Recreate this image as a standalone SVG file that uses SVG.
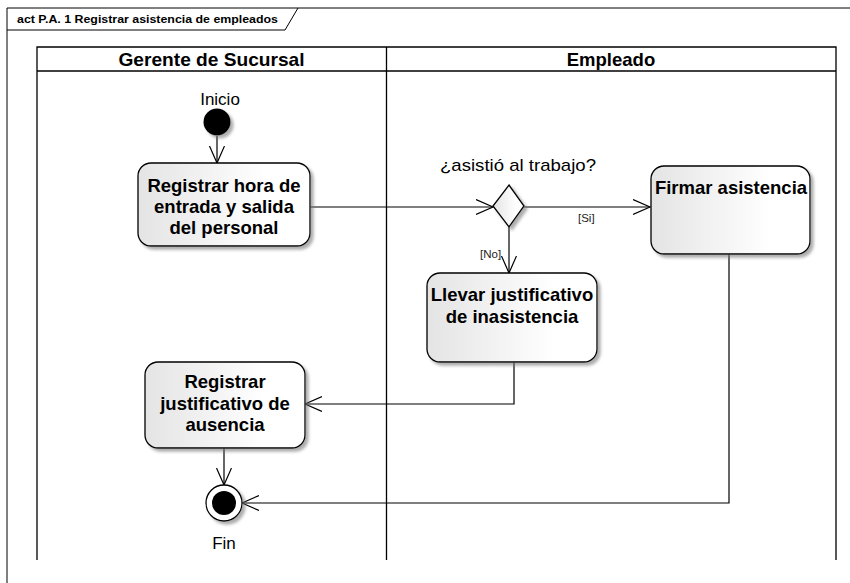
<svg xmlns="http://www.w3.org/2000/svg" width="850" height="583" viewBox="0 0 850 583">
<defs>
<style>
.frame{fill:none;stroke:#000;stroke-width:1}
.lane{fill:none;stroke:#000;stroke-width:1.3}
.title{font-family:"Liberation Sans",Arial,sans-serif;font-weight:bold;font-size:11.5px;fill:#000}
.hdr{font-family:"Liberation Sans",Arial,sans-serif;font-weight:bold;font-size:18.5px;fill:#000;text-anchor:middle}
.act{fill:url(#g);stroke:#000;stroke-width:1.3;filter:url(#sh)}
.lbl{font-family:"Liberation Sans",Arial,sans-serif;font-weight:bold;font-size:18.5px;fill:#000;text-anchor:middle}
.txt{font-family:"Liberation Sans",Arial,sans-serif;font-size:17px;fill:#000;text-anchor:middle}
.grd{font-family:"Liberation Sans",Arial,sans-serif;font-size:11.5px;fill:#222}
.con{fill:none;stroke:#000;stroke-width:1.2;marker-end:url(#arr)}
</style>
<linearGradient id="g" x1="0" y1="0" x2="1" y2="0">
<stop offset="0" stop-color="#e4e4e4"/>
<stop offset="0.75" stop-color="#ffffff"/>
<stop offset="1" stop-color="#ffffff"/>
</linearGradient>
<filter id="sh" x="-10%" y="-10%" width="130%" height="130%">
<feDropShadow dx="3" dy="3" stdDeviation="1.5" flood-color="#777" flood-opacity="0.6"/>
</filter>
<marker id="arr" markerUnits="userSpaceOnUse" markerWidth="20" markerHeight="18" refX="17" refY="8" orient="auto">
<path d="M0,0.5 L17,8 L0,15.5" fill="none" stroke="#000" stroke-width="1.2"/>
</marker>
</defs>
<rect width="850" height="583" fill="#fff"/>
<g id="frame">
<path class="frame" d="M7,583 L7,8 L850,8"/>
<path class="frame" d="M7,30 L285,30 L298,8"/>
<text class="title" x="17" y="23" textLength="261" lengthAdjust="spacingAndGlyphs">act P.A. 1 Registrar asistencia de empleados</text>
</g>
<g id="lanes">
<path class="lane" d="M37,560 L37,47 L836,47 L836,560"/>
<line class="lane" x1="37" y1="71" x2="836" y2="71"/>
<line class="lane" x1="386.5" y1="47" x2="386.5" y2="560"/>
<text class="hdr" x="211.5" y="66" textLength="186" lengthAdjust="spacingAndGlyphs">Gerente de Sucursal</text>
<text class="hdr" x="611" y="66">Empleado</text>
</g>
<g id="connectors">
<path class="con" d="M217,136 L217,163"/>
<path class="con" d="M310,207 L493,207"/>
<path class="con" d="M524,207 L650,207"/>
<path class="con" d="M509,227 L509,273"/>
<path class="con" d="M514,362 L514,404 L305,404"/>
<path class="con" d="M224,448 L224,485"/>
<path class="con" d="M729,254 L729,503 L242,503"/>
<text class="grd" x="578" y="222">[Si]</text>
<text class="grd" x="480" y="258">[No]</text>
</g>
<g id="inicio">
<circle cx="217" cy="122" r="13.5" fill="#000" filter="url(#sh)"/>
<text class="txt" x="220" y="105">Inicio</text>
</g>
<g id="registrar-hora">
<rect class="act" x="138" y="163" width="172" height="83" rx="13" ry="13"/>
<text class="lbl" x="224" y="192">Registrar hora de</text>
<text class="lbl" x="224" y="213">entrada y salida</text>
<text class="lbl" x="224" y="234">del personal</text>
</g>
<g id="decision">
<polygon class="act" points="509,185 524,206 509,227 493,206"/>
<text class="txt" x="518" y="171" textLength="156" lengthAdjust="spacingAndGlyphs">¿asistió al trabajo?</text>
</g>
<g id="firmar">
<rect class="act" x="651" y="166" width="159" height="88" rx="13" ry="13"/>
<text class="lbl" x="731" y="194">Firmar asistencia</text>
</g>
<g id="llevar">
<rect class="act" x="427" y="273" width="170" height="89" rx="13" ry="13"/>
<text class="lbl" x="512" y="301">Llevar justificativo</text>
<text class="lbl" x="512" y="323">de inasistencia</text>
</g>
<g id="registrar-justificativo">
<rect class="act" x="145" y="362" width="160" height="86" rx="13" ry="13"/>
<text class="lbl" x="225" y="388">Registrar</text>
<text class="lbl" x="225" y="410">justificativo de</text>
<text class="lbl" x="225" y="431">ausencia</text>
</g>
<g id="fin">
<circle cx="224" cy="503" r="18" fill="#fff" stroke="#000" stroke-width="1.3" filter="url(#sh)"/>
<circle cx="224" cy="503" r="12" fill="#000"/>
<text class="txt" x="224" y="549">Fin</text>
</g>
</svg>
